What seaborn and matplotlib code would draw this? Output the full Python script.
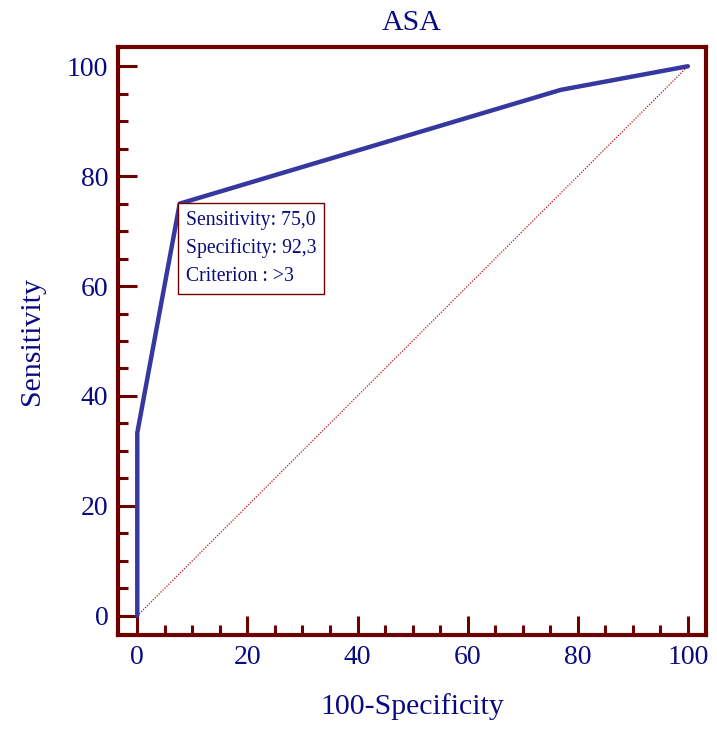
import numpy as np
import pandas as pd
import matplotlib
matplotlib.use("Agg")
import matplotlib.pyplot as plt
import seaborn as sns
from matplotlib.ticker import MultipleLocator

# ── Data ──────────────────────────────────────────────────────────────────
fpr = [0.0, 0.0, 7.7, 76.9, 100.0]          # 100-Specificity
tpr = [0.0, 33.3, 75.0, 95.7, 100.0]        # Sensitivity
ref_x = [0, 100]
ref_y = [0, 100]
box_lines = ["Sensitivity: 75,0", "Specificity: 92,3", "Criterion : >3"]
cut_x, cut_y = 7.7, 75.0

NAVY = "#0a0a80"
FRAME = "#6e0000"
CURVE = "#3737a0"

sns.set_style("white")
plt.rcParams["font.family"] = ["Liberation Serif", "DejaVu Serif"]

fig = plt.figure(figsize=(7.17, 7.29), dpi=100)
ax = fig.add_axes([0.1646, 0.129, 0.8201, 0.8065])

df = pd.DataFrame({"fpr": fpr, "tpr": tpr})
sns.lineplot(data=df, x="fpr", y="tpr", sort=False, estimator=None,
             color=CURVE, lw=3.2, ax=ax, zorder=3)
ax.plot(ref_x, ref_y, ls=(0, (1, 1.2)), color="#c01010", lw=0.9, zorder=2)

ax.set_xlim(-3.5, 103.3)
ax.set_ylim(-3.5, 103.5)

for s in ax.spines.values():
    s.set_color(FRAME)
    s.set_linewidth(3)

ax.xaxis.set_major_locator(MultipleLocator(20))
ax.yaxis.set_major_locator(MultipleLocator(20))
ax.xaxis.set_minor_locator(MultipleLocator(5))
ax.yaxis.set_minor_locator(MultipleLocator(5))
ax.tick_params(which="major", direction="in", length=13.5, width=2.2,
               color=FRAME, labelcolor=NAVY, labelsize=20, pad=7,
               top=False, right=False, bottom=True, left=True)
ax.tick_params(which="minor", direction="in", length=7, width=2.2,
               color=FRAME, top=False, right=False, bottom=True, left=True)

ax.set_xlabel("100-Specificity", color=NAVY, fontsize=21.5, labelpad=17)
ax.set_ylabel("Sensitivity", color=NAVY, fontsize=21.5, labelpad=16)
ax.set_title("ASA", color=NAVY, fontsize=21.5, pad=12)

ax.annotate("\n".join(box_lines), xy=(cut_x, cut_y), xytext=(4.5, -5),
            textcoords="offset points", ha="left", va="top",
            color=NAVY, fontsize=14.2, linespacing=1.6, zorder=4,
            bbox=dict(boxstyle="square,pad=0.4", fc="white", ec=FRAME, lw=1))

fig.savefig("out.png", dpi=100)
